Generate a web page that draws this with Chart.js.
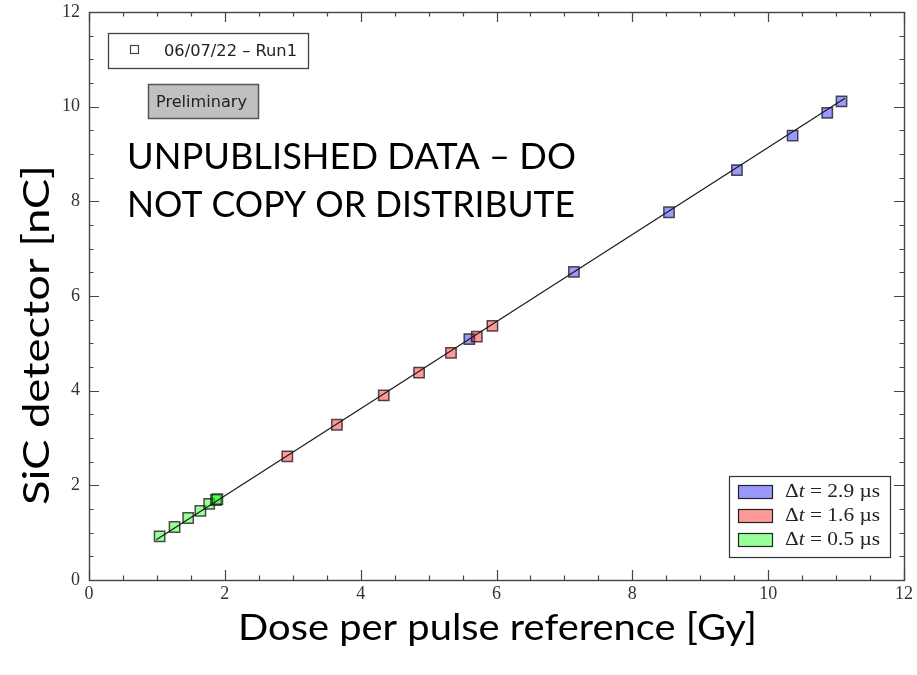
<!DOCTYPE html>
<html><head><meta charset="utf-8">
<script src="https://cdn.jsdelivr.net/npm/chart.js@4.4.1/dist/chart.umd.min.js"></script>
<style>html,body{margin:0;padding:0;background:#fff;}#wrap{width:917px;height:675px;}</style>
</head><body><div id="wrap"><canvas id="c" width="917" height="675"></canvas></div>
<script>
// ---- data ----
const blueDose  = [5.60, 7.14, 8.54, 9.54, 10.36, 10.87, 11.08];
const blueSiC   = [5.09, 6.51, 7.77, 8.66, 9.39, 9.87, 10.11];
const redDose   = [2.92, 3.65, 4.34, 4.86, 5.33, 5.71, 5.94];
const redSiC    = [2.61, 3.28, 3.90, 4.38, 4.80, 5.14, 5.37];
const greenDose = [1.04, 1.26, 1.46, 1.64, 1.77, 1.87, 1.89];
const greenSiC  = [0.92, 1.12, 1.31, 1.46, 1.61, 1.69, 1.71];
const fitDose   = [0.99, 11.13];
const fitSiC    = [0.85, 10.18];
const xTickLabels = [0, 2, 4, 6, 8, 10, 12];
const yTickLabels = [0, 2, 4, 6, 8, 10, 12];
const seriesLabels = ['\u0394t = 2.9 \u00b5s', '\u0394t = 1.6 \u00b5s', '\u0394t = 0.5 \u00b5s'];
const runLabel = '06/07/22 \u2013 Run1';

const BLUE = 'rgba(0,0,255,0.4)', RED = 'rgba(255,0,0,0.4)', GREEN = 'rgba(0,255,0,0.4)';
const pts = (xs, ys) => xs.map((x, i) => ({x, y: ys[i]}));
const marker = (data, color) => ({
  type: 'scatter', data, pointStyle: 'rect', pointRadius: 7.3, pointHoverRadius: 7.3,
  backgroundColor: color, borderColor: 'rgba(20,20,20,0.75)', borderWidth: 1.5, order: 2
});

function fitText(ctx, text, x, y, width, font, align) {
  ctx.save();
  ctx.font = font;
  const w = ctx.measureText(text).width;
  const sx = width / w;
  ctx.translate(x, y);
  ctx.scale(sx, 1);
  ctx.textAlign = align || 'left';
  ctx.fillText(text, 0, 0);
  ctx.restore();
}

const decor = {
  id: 'decor',
  afterDatasetsDraw(chart) {
    const ctx = chart.ctx, a = chart.chartArea, xs = chart.scales.x, ys = chart.scales.y;
    ctx.save();
    ctx.strokeStyle = '#444';
    ctx.lineWidth = 1.2;
    for (let v = 0; v <= 12.001; v += 0.5) {
      const major = Math.abs(v / 2 - Math.round(v / 2)) < 1e-6;
      const L = major ? 10 : 4.5;
      const px = Math.round(xs.getPixelForValue(v)) + 0.5;
      const py = Math.round(ys.getPixelForValue(v)) + 0.5;
      ctx.beginPath();
      ctx.moveTo(px, a.bottom); ctx.lineTo(px, a.bottom - L);
      ctx.moveTo(px, a.top); ctx.lineTo(px, a.top + L);
      ctx.moveTo(a.left, py); ctx.lineTo(a.left + L, py);
      ctx.moveTo(a.right, py); ctx.lineTo(a.right - L, py);
      ctx.stroke();
    }
    ctx.lineWidth = 1.4;
    ctx.strokeRect(a.left + 0.5, a.top + 0.5, a.right - a.left, a.bottom - a.top);
    ctx.restore();
  },
  afterDraw(chart) {
    const ctx = chart.ctx;
    ctx.save();
    ctx.fillStyle = '#fff';
    ctx.strokeStyle = '#444';
    ctx.lineWidth = 1.3;
    ctx.fillRect(108, 33, 200, 35);
    ctx.strokeRect(108.5, 33.5, 200, 35);
    ctx.lineWidth = 1.2;
    ctx.strokeRect(130.5, 45.5, 8, 8);
    ctx.fillStyle = '#222';
    ctx.textBaseline = 'alphabetic';
    fitText(ctx, runLabel, 164, 55.5, 133, '15px "DejaVu Sans"');
    ctx.fillStyle = '#c0c0c0';
    ctx.fillRect(148, 84, 111, 35);
    ctx.strokeStyle = '#555';
    ctx.lineWidth = 1.5;
    ctx.strokeRect(148.5, 84.5, 110, 34);
    ctx.fillStyle = '#222';
    fitText(ctx, 'Preliminary', 156, 107, 91, '16px "DejaVu Sans"');
    ctx.fillStyle = '#000';
    fitText(ctx, 'UNPUBLISHED DATA \u2013 DO', 127, 169, 449, '36px Lato');
    fitText(ctx, 'NOT COPY OR DISTRIBUTE', 127, 217, 448, '36px Lato');
    fitText(ctx, 'Dose per pulse reference [Gy]', 238, 640, 519, '36px Lato');
    ctx.save();
    ctx.translate(49, 505);
    ctx.rotate(-Math.PI / 2);
    fitText(ctx, 'SiC detector [nC]', 0, 0, 340, '36px Lato');
    ctx.restore();
    ctx.fillStyle = '#fff';
    ctx.fillRect(729, 476, 161, 81);
    ctx.strokeStyle = '#333';
    ctx.lineWidth = 1.2;
    ctx.strokeRect(729.5, 476.5, 161, 81);
    const cols = [BLUE, RED, GREEN];
    for (let i = 0; i < 3; i++) {
      const y = 485 + i * 24;
      ctx.fillStyle = cols[i];
      ctx.fillRect(738, y, 34, 13);
      ctx.strokeStyle = '#222';
      ctx.strokeRect(738.5, y + 0.5, 34, 13);
      const base = y + 12;
      const txt = seriesLabels[i];
      const rest = txt.slice(2);
      ctx.fillStyle = '#222';
      const F = '18px "Liberation Serif"', FI = 'italic 18px "Liberation Serif"';
      ctx.font = F;
      const wD = ctx.measureText('\u0394').width;
      ctx.font = FI;
      const wT = ctx.measureText('t').width;
      ctx.font = F;
      const wR = ctx.measureText(rest).width;
      const sx = 95 / (wD + wT + wR);
      ctx.save();
      ctx.translate(785, base);
      ctx.scale(sx, 1);
      ctx.textAlign = 'left';
      ctx.fillText('\u0394', 0, 0);
      ctx.font = FI;
      ctx.fillText('t', wD, 0);
      ctx.font = F;
      ctx.fillText(rest, wD + wT, 0);
      ctx.restore();
    }
    ctx.restore();
  }
};

new Chart(document.getElementById('c'), {
  type: 'scatter',
  data: {
    datasets: [
      {type: 'line', data: pts(fitDose, fitSiC), borderColor: '#1a1a1a', borderWidth: 1.2,
       pointRadius: 0, pointHoverRadius: 0, fill: false, order: 0},
      marker(pts(greenDose, greenSiC), GREEN),
      marker(pts(redDose, redSiC), RED),
      marker(pts(blueDose, blueSiC), BLUE)
    ]
  },
  options: {
    responsive: false,
    animation: false,
    events: [],
    layout: {padding: {top: 12, right: 13, left: 0, bottom: 0}},
    plugins: {legend: {display: false}, tooltip: {enabled: false}},
    scales: {
      x: {
        type: 'linear', min: 0, max: 12,
        afterFit(s) { s.height = 95; s.paddingLeft = 0; s.paddingRight = 0; },
        afterBuildTicks(s) { s.ticks = xTickLabels.map(v => ({value: v})); },
        grid: {display: false, drawTicks: false},
        border: {display: false},
        ticks: {padding: 3, color: '#333', font: {family: '"Liberation Serif"', size: 18}, maxRotation: 0, autoSkip: false}
      },
      y: {
        type: 'linear', min: 0, max: 12,
        afterFit(s) { s.width = 89; s.paddingTop = 0; s.paddingBottom = 0; },
        afterBuildTicks(s) { s.ticks = yTickLabels.map(v => ({value: v})); },
        grid: {display: false, drawTicks: false},
        border: {display: false},
        ticks: {padding: 9, color: '#333', font: {family: '"Liberation Serif"', size: 18}, autoSkip: false}
      }
    }
  },
  plugins: [decor]
});
</script>
</body></html>
